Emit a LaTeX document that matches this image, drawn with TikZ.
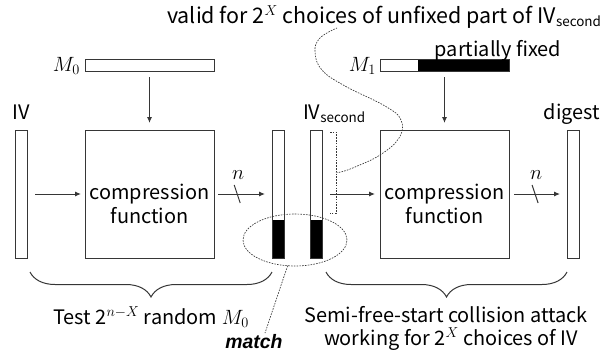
\documentclass[tikz,border=0pt]{standalone}
\usepackage{fontspec}
\setmainfont{Noto Sans CJK JP}
\newfontfamily\matchfont{Liberation Sans}
\DeclareMathSizes{20}{20.74}{14.4}{12}
\DeclareMathSizes{21.5}{20.74}{14.4}{12}
\usetikzlibrary{arrows.meta,decorations.pathreplacing,shapes.geometric,calc}
\definecolor{linec}{HTML}{363636}
\newcommand{\subsec}{\raisebox{-3.5bp}{\fontsize{13.5}{13.5}\selectfont second}}
\begin{document}
\begin{tikzpicture}[x=1bp,y=-1bp,
  line width=1bp,
  every node/.style={inner sep=0pt, outer sep=0pt, font=\fontsize{20}{24}\selectfont, text=black},
  bar/.style={draw=linec, minimum width=12bp, minimum height=128bp},
  cbox/.style={draw=linec, minimum width=129bp, minimum height=128bp},
  mbar/.style={draw=linec, minimum width=129bp, minimum height=12bp},
  arr/.style={draw=linec, -{Latex[length=6bp,width=5bp]}},
  dsh/.style={draw=linec, line width=0.65bp, dash pattern=on 1.6bp off 1.2bp},
  brc/.style={draw=linec, decorate, decoration={brace, mirror, amplitude=25bp}},
]
\useasboundingbox (0,0) rectangle (603,352);

% black (fixed) parts
\fill[black] (272,220) rectangle (284,258);
\fill[black] (310,220) rectangle (322,258);
\fill[black] (418,59) rectangle (509,71);

% bars and boxes
\node[bar] (iv) at (21,194) {};
\node[cbox] (cf1) at (149.5,194) {};
\node[bar] (h0) at (278,194) {};
\node[bar] (ivs) at (316,194) {};
\node[cbox] (cf2) at (444.5,194) {};
\node[bar] (dg) at (573,194) {};
\node[mbar] (m0) at (149.5,65) {};
\node[mbar] (m1) at (444.5,65) {};

% box texts
\node[align=center] (tcf1) at (149.5,204) {compression\\function};
\node[align=center] (tcf2) at (444.5,204) {compression\\function};

% arrows
\draw[arr, shorten <=8bp, shorten >=4bp] (iv.east) -- (cf1.west);
\draw[arr, shorten <=4bp, shorten >=7bp] (cf1.east) -- (h0.west);
\draw[arr, shorten <=8bp, shorten >=5bp] (ivs.east) -- (cf2.west);
\draw[arr, shorten <=5bp, shorten >=7bp] (cf2.east) -- (dg.west);
\draw[arr, shorten <=6bp, shorten >=7bp] (m0.south) -- (cf1.north);
\draw[arr, shorten <=6bp, shorten >=7bp] (m1.south) -- (cf2.north);

% slashes with n
\coordinate (s1) at ($(cf1.east)!0.4!(h0.west)$);
\coordinate (s2) at ($(cf2.east)!0.45!(dg.west)$);
\draw[linec] ($(s1)+(-3,-9)$) -- ($(s1)+(3,9)$);
\draw[linec] ($(s2)+(-3,-9)$) -- ($(s2)+(3,9)$);
\node (n1) at ($(s1)+(1,-19)$) {$n$};
\node (n2) at ($(s2)+(1,-19)$) {$n$};

% labels
\node[anchor=base] (tiv) at (21,119) {IV};
\node[anchor=base] (tdg) at (572,119) {digest};
\node[anchor=base west] (tivs) at (303,119) {IV\subsec};
\node[anchor=base east] (tm0) at (80,71) {$M_0$};
\node[anchor=base east] (tm1) at (376,71) {$M_1$};
\node[anchor=base] (tpf) at (498,56) {partially fixed};
\node[anchor=base east, font=\fontsize{21.5}{24}\selectfont] (ttop) at (601,23) {valid for 2$^X$ choices of unfixed part of IV\subsec};

% match ellipse
\node[dsh, ellipse, minimum width=104bp, minimum height=52bp] (ell) at (295,240) {};
\node[anchor=base, font=\matchfont\bfseries\itshape\fontsize{19.5}{21}\selectfont] (tmatch) at (254,348) {match};
\coordinate (mt) at (265,333);
\draw[dsh] (ell.-106) -- (mt);

% bracket on IV_second and curve to top text
\draw[dsh] (330,132) -- (336,132) -- (336,213) -- (330,213);
\draw[dsh] plot[smooth, tension=0.7] coordinates {(336,172) (341,172) (355,167) (380,155) (399,138) (401,120) (385,106) (345,86) (322,70) (315,52) (320,38) (337,28)};

% braces
\draw[brc] (30,272) -- (272,272);
\draw[brc] (326,272) -- (567,272);
\node[anchor=base] (ttest) at (151,324) {Test 2$^{n-X}$ random $M_0$};
\node[anchor=base] (tsemi1) at (446,322) {Semi-free-start collision attack};
\node[anchor=base] (tsemi2) at (451,345) {working for 2$^X$ choices of IV};
\end{tikzpicture}
\end{document}
